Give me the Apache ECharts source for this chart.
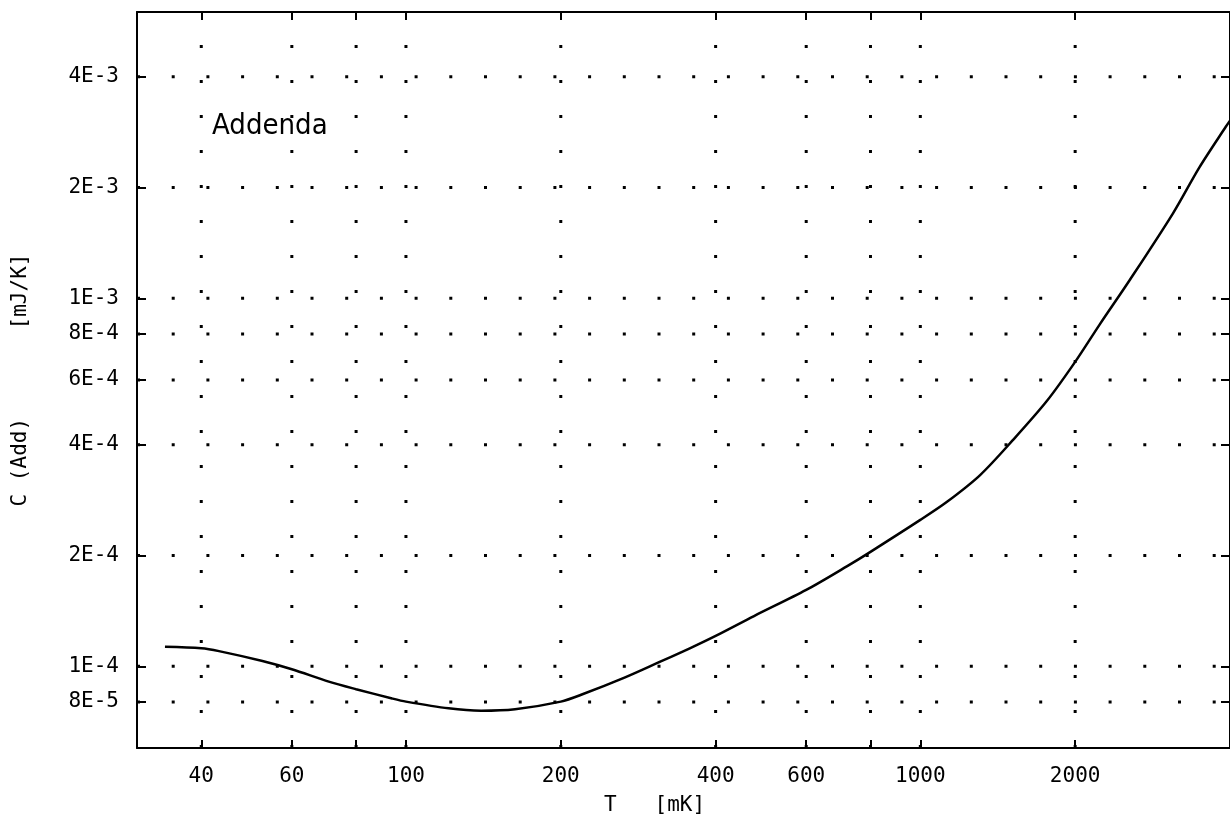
<!DOCTYPE html>
<html><head><meta charset="utf-8">
<script src="https://cdn.jsdelivr.net/npm/echarts@6/dist/echarts.min.js"></script>
<style>html,body{margin:0;padding:0;background:#fff}#c{width:1230px;height:821px}</style>
</head><body><div id="c"></div>
<script>
// Temperature [mK] and addenda heat capacity [mJ/K]
const temperatures = [34, 40, 43.3, 52.6, 60, 70.8, 80, 94, 100, 121, 140, 163, 200, 221, 266, 309, 358, 400, 475, 600, 721, 800, 1000, 1127, 1307, 1516, 1760, 2000, 2233, 2552, 3097, 3488, 3928, 4000];
const heatCapacity = [1.13e-4, 1.12e-4, 1.10e-4, 1.034e-4, 9.82e-5, 9.09e-5, 8.67e-5, 8.18e-5, 8.02e-5, 7.69e-5, 7.58e-5, 7.65e-5, 8.02e-5, 8.41e-5, 9.32e-5, 1.023e-4, 1.123e-4, 1.21e-4, 1.37e-4, 1.613e-4, 1.872e-4, 2.047e-4, 2.50e-4, 2.80e-4, 3.31e-4, 4.13e-4, 5.25e-4, 6.72e-4, 8.5e-4, 1.12e-3, 1.70e-3, 2.27e-3, 2.93e-3, 3.04e-3];

const xTickValues = [40, 60, 80, 100, 200, 400, 600, 800, 1000, 2000];
const xLabelValues = [40, 60, 100, 200, 400, 600, 1000, 2000];
const xLabelTexts = ['40', '60', '100', '200', '400', '600', '1000', '2000'];
const yTickValues = [8e-5, 1e-4, 2e-4, 4e-4, 6e-4, 8e-4, 1e-3, 2e-3, 4e-3];
const yTickLabels = ['8E-5', '1E-4', '2E-4', '4E-4', '6E-4', '8E-4', '1E-3', '2E-3', '4E-3'];
const xRange = [30, 4000];
const yRange = [6e-5, 6e-3];
const xName = 'T   [mK]';
const yName = 'C (Add)       [mJ/K]';
const annotation = 'Addenda';

const FONT = '"DejaVu Sans Mono", "Liberation Mono", monospace';
const FS = 21;
function lookup(vals, texts, v) {
  for (let i = 0; i < vals.length; i++) {
    if (Math.abs(vals[i] - v) / vals[i] < 1e-3) return texts[i];
  }
  return '';
}
const lineSt = { color: '#000', width: 2 };
function xAx(pos, showLabels) {
  return {
    type: 'log', logBase: 10, min: xRange[0], max: xRange[1], position: pos,
    axisLine: { show: true, onZero: false, lineStyle: lineSt },
    axisTick: { show: true, inside: true, length: 8, customValues: xTickValues, lineStyle: lineSt },
    minorTick: { show: false },
    splitLine: { show: false },
    axisLabel: {
      show: showLabels, customValues: xLabelValues, margin: 18,
      fontFamily: FONT, fontSize: FS, color: '#000',
      formatter: v => lookup(xLabelValues, xLabelTexts, v)
    },
    name: showLabels ? xName : '', nameLocation: 'middle', nameGap: 47,
    nameTextStyle: { fontFamily: FONT, fontSize: FS, color: '#000', padding: [0, 58, 0, 0] }
  };
}
function yAx(pos, showLabels) {
  return {
    type: 'log', logBase: 10, min: yRange[0], max: yRange[1], position: pos,
    axisLine: { show: true, onZero: false, lineStyle: lineSt },
    axisTick: { show: true, inside: true, length: 9, customValues: yTickValues, lineStyle: lineSt },
    minorTick: { show: false },
    splitLine: { show: false },
    axisLabel: {
      show: showLabels, customValues: yTickValues, margin: 18,
      fontFamily: FONT, fontSize: FS, color: '#000',
      formatter: v => lookup(yTickValues, yTickLabels, v)
    },
    name: showLabels ? yName : '', nameLocation: 'middle', nameGap: 106,
    nameTextStyle: { fontFamily: FONT, fontSize: FS, color: '#000' }
  };
}

const dotStyle = { color: '#000', width: 3, type: [3, 32], cap: 'butt' };
const gridSeries = [];
xTickValues.forEach(v => gridSeries.push({
  type: 'line', silent: true, showSymbol: false, symbol: 'none', z: 1,
  data: [[v, yRange[0]], [v, yRange[1]]], lineStyle: dotStyle, emphasis: { disabled: true }
}));
yTickValues.forEach(v => gridSeries.push({
  type: 'line', silent: true, showSymbol: false, symbol: 'none', z: 1,
  data: [[xRange[0], v], [xRange[1], v]], lineStyle: Object.assign({}, dotStyle, { type: [3, 31.7] }), emphasis: { disabled: true }
}));

const chart = echarts.init(document.getElementById('c'), null, { renderer: 'canvas' });
chart.setOption({
  backgroundColor: '#fff',
  animation: false,
  grid: { left: 137, top: 12, width: 1096, height: 740, containLabel: false },
  xAxis: [xAx('bottom', true), xAx('top', false)],
  yAxis: [yAx('left', true), yAx('right', false)],
  graphic: [{
    type: 'text', left: 212, top: 112,
    style: { text: annotation, font: '29px "DejaVu Sans Condensed", "Liberation Sans Narrow", sans-serif', fill: '#000' }
  }],
  series: gridSeries.concat([{
    type: 'line',
    xAxisIndex: 0, yAxisIndex: 0, z: 3,
    data: temperatures.map((t, i) => [t, heatCapacity[i]]),
    showSymbol: false, smooth: 0.3,
    lineStyle: { color: '#000', width: 2.5 },
    emphasis: { disabled: true },
    clip: true
  }])
});
</script></body></html>
